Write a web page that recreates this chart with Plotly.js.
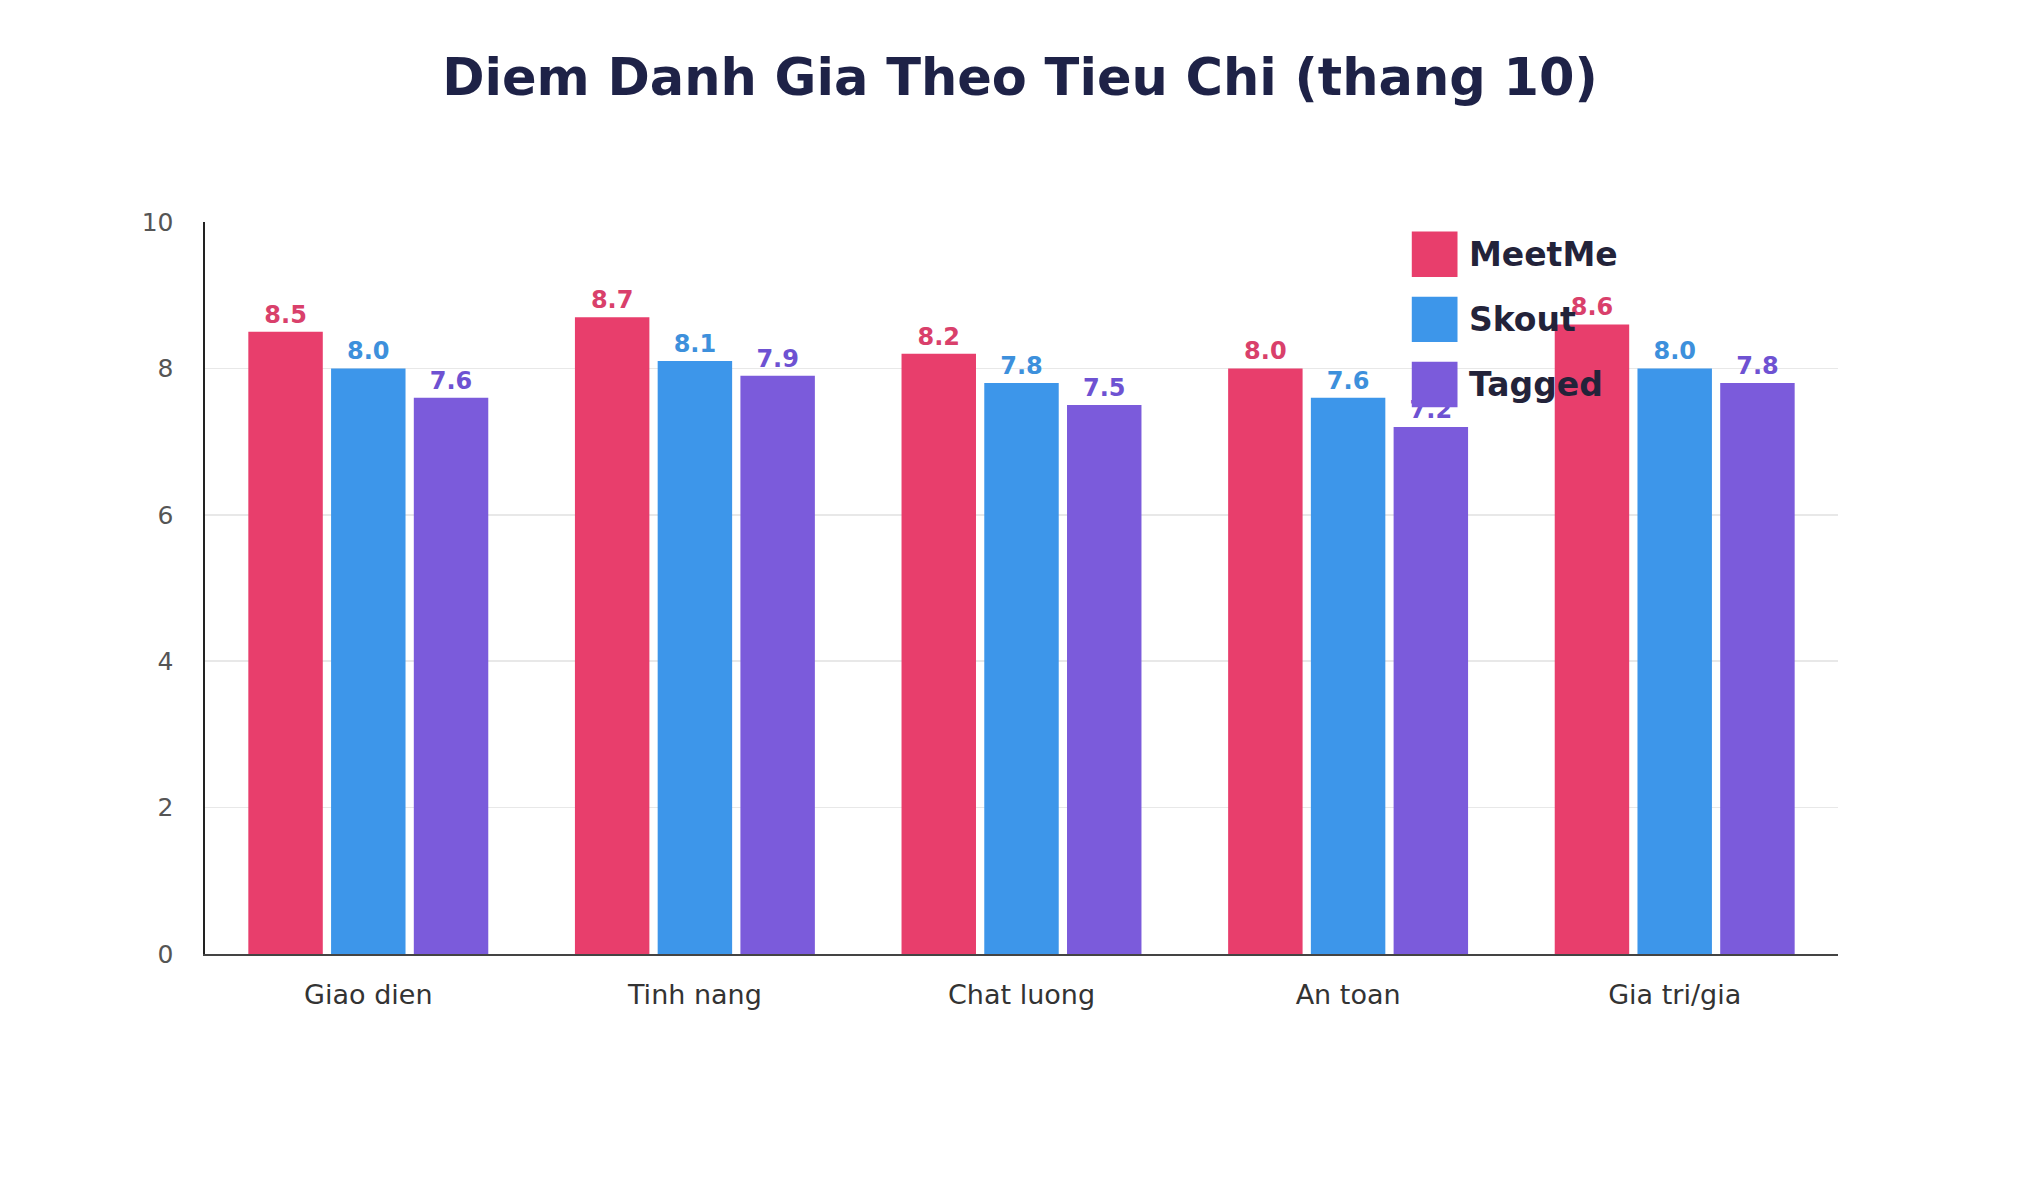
<!DOCTYPE html>
<html>
<head>
<meta charset="utf-8">
<script src="https://cdn.plot.ly/plotly-3.0.1.min.js"></script>
<style>
  body { margin: 0; background: #fff; }
  #chart { width: 2040px; height: 1190px; }
</style>
</head>
<body>
<div id="chart"></div>
<script>
// chart data
var categories = ["Giao dien", "Tinh nang", "Chat luong", "An toan", "Gia tri/gia"];
var seriesNames = ["MeetMe", "Skout", "Tagged"];
var meetme = [8.5, 8.7, 8.2, 8.0, 8.6];
var skout = [8.0, 8.1, 7.8, 7.6, 8.0];
var tagged = [7.6, 7.9, 7.5, 7.2, 7.8];
var yTicks = [0, 2, 4, 6, 8, 10];

var colors = ["#E83E6C", "#3D96EA", "#7B5BDB"];
var labelColors = ["#D9406B", "#3D90DC", "#6E52D2"];
var font = "DejaVu Sans, Verdana, sans-serif";

function make_trace(idx, vals)
{
	return {
		type: 'bar',
		name: seriesNames[idx],
		x: categories,
		y: vals,
		marker: {color: colors[idx]},
		text: vals.map(function (v) { return v.toFixed(1); }),
		textposition: 'outside',
		textfont: {family: font, size: 24, color: labelColors[idx], weight: 'bold'},
		cliponaxis: false,
		hoverinfo: 'skip'
	};
}

var data = [
	make_trace(0, meetme),
	make_trace(1, skout),
	make_trace(2, tagged)
];

// legend drawn by hand so the swatches get the big squares
var shapes = [];
var annots = [];
var legY = [0.956, 0.867, 0.778];
for (var i = 0; i < seriesNames.length; i++) {
	shapes.push({
		type: 'rect', xref: 'paper', yref: 'paper', layer: 'above',
		x0: 0.739, x1: 0.767, y0: legY[i] - 0.031, y1: legY[i] + 0.031,
		fillcolor: colors[i], line: {width: 0}
	});
	annots.push({
		xref: 'paper', yref: 'paper', x: 0.773, y: legY[i],
		xanchor: 'left', yanchor: 'middle', showarrow: false,
		text: seriesNames[i],
		font: {family: font, size: 33, color: '#23233a', weight: 'bold'}
	});
}

var layout = {
	width: 2040,
	height: 1190,
	margin: {l: 205, r: 202, t: 222, b: 236},
	paper_bgcolor: '#fff',
	plot_bgcolor: '#fff',
	showlegend: false,
	barmode: 'group',
	bargap: 0.24,
	bargroupgap: 0.1,
	title: {
		text: 'Diem Danh Gia Theo Tieu Chi (thang 10)',
		font: {family: font, size: 51, color: '#1E2247', weight: 'bold'},
		x: 0.5, xanchor: 'center',
		y: 1 - 77 / 1190, yanchor: 'middle'
	},
	xaxis: {
		type: 'category',
		showline: true, linecolor: '#444', linewidth: 2,
		ticks: '', ticklabelstandoff: 16,
		tickfont: {family: font, size: 27, color: '#333'},
		showgrid: false, zeroline: false
	},
	yaxis: {
		range: [0, 10],
		tickvals: yTicks,
		showline: true, linecolor: '#222', linewidth: 2.5,
		ticks: '', ticklabelstandoff: 24,
		tickfont: {family: font, size: 25, color: '#555'},
		showgrid: true, gridcolor: '#e8e8e8', gridwidth: 1.5,
		zeroline: false
	},
	shapes: shapes,
	annotations: annots
};

Plotly.newPlot('chart', data, layout, {displayModeBar: false, staticPlot: true});
</script>
</body>
</html>
